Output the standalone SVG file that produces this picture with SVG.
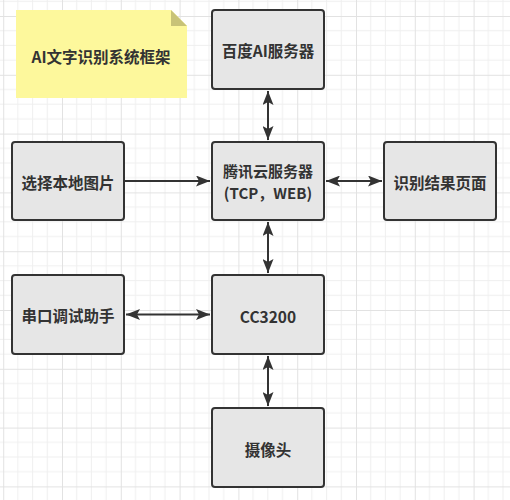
<svg xmlns="http://www.w3.org/2000/svg" width="510" height="500" viewBox="0 0 510 500">
<defs>
<pattern id="grid" patternUnits="userSpaceOnUse" x="3.2" y="16" width="58.8" height="58.8">
<path d="M14.7 0V58.8M29.4 0V58.8M44.1 0V58.8M0 14.7H58.8M0 29.4H58.8M0 44.1H58.8" stroke="#efefef" stroke-width="1" fill="none"/>
<path d="M0.5 0V58.8M0 0.5H58.8" stroke="#e2e2e2" stroke-width="1" fill="none"/>
</pattern>
<marker id="ah" viewBox="0 0 14 11" refX="14" refY="5.5" markerWidth="14" markerHeight="11" markerUnits="userSpaceOnUse" orient="auto-start-reverse">
<path d="M0 0L14 5.5L0 11L3 5.5Z" fill="#333"/>
</marker>
<style>
.box{fill:#e6e6e6;stroke:#333;stroke-width:2}
.t{font-family:"Noto Sans CJK SC","Liberation Sans",sans-serif;font-weight:bold;font-size:15.5px;fill:#333;text-anchor:middle;dominant-baseline:central}
.s{font-size:15px}
.c{stroke:#333;stroke-width:2;fill:none}
</style>
</defs>
<rect width="510" height="500" fill="#fff"/>
<rect width="510" height="500" fill="url(#grid)"/>
<g id="note">
<path d="M16 10H171L187 26V98H16Z" fill="#fdf89c"/>
<path d="M171 10V26H187Z" fill="#c8c378"/>
<text class="t" x="101" y="56" fill="#222">AI文字识别系统框架</text>
</g>
<g id="connectors">
<path class="c" d="M268 91V140" marker-start="url(#ah)" marker-end="url(#ah)"/>
<path class="c" d="M125 181H210" marker-end="url(#ah)"/>
<path class="c" d="M326 181H382" marker-start="url(#ah)" marker-end="url(#ah)"/>
<path class="c" d="M268 222V273" marker-start="url(#ah)" marker-end="url(#ah)"/>
<path class="c" d="M126 314.5H210" marker-start="url(#ah)" marker-end="url(#ah)"/>
<path class="c" d="M268 356V406" marker-start="url(#ah)" marker-end="url(#ah)"/>
</g>
<g id="baidu">
<rect class="box" x="212" y="10" width="112" height="79" rx="3"/>
<text class="t" x="268" y="50">百度AI服务器</text>
</g>
<g id="tencent">
<rect class="box" x="212" y="142" width="112" height="78" rx="3"/>
<text class="t s" x="268" y="170.5">腾讯云服务器</text>
<text class="t s" x="268" y="192.5">(TCP，WEB)</text>
</g>
<g id="select">
<rect class="box" x="12" y="142" width="112" height="78" rx="3"/>
<text class="t" x="68" y="182">选择本地图片</text>
</g>
<g id="result">
<rect class="box" x="384" y="142" width="112" height="78" rx="3"/>
<text class="t" x="440" y="182">识别结果页面</text>
</g>
<g id="serial">
<rect class="box" x="12" y="275" width="112" height="79" rx="3"/>
<text class="t" x="68" y="315">串口调试助手</text>
</g>
<g id="cc3200">
<rect class="box" x="212" y="275" width="112" height="79" rx="3"/>
<text class="t" x="268" y="316">CC3200</text>
</g>
<g id="camera">
<rect class="box" x="212" y="408" width="112" height="79" rx="3"/>
<text class="t" x="268" y="449">摄像头</text>
</g>
</svg>
